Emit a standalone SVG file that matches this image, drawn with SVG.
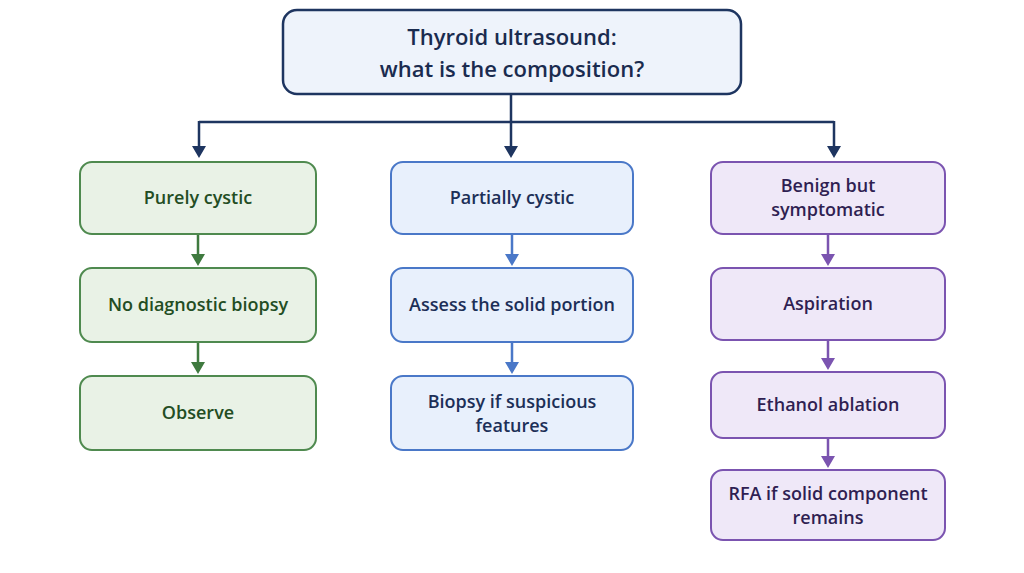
<svg xmlns="http://www.w3.org/2000/svg" width="1024" height="573" viewBox="0 0 1024 573">
<style>
text{font-family:"Open Sans","Liberation Sans",sans-serif;font-weight:600;font-size:18px;text-anchor:middle}
.g rect{fill:#e9f2e6;stroke:#4f8a4f;stroke-width:2}.g text{fill:#234d23}
.b rect{fill:#e8f0fc;stroke:#4a78c8;stroke-width:2}.b text{fill:#1c2f57}
.p rect{fill:#efe8f8;stroke:#7b54b0;stroke-width:2}.p text{fill:#2f1f52}
.t rect{fill:#eef3fb;stroke:#1e3560;stroke-width:2.5}.t text{fill:#1a2b4f;font-size:22px}
.c{fill:none;stroke-width:2.5}
</style>
<defs>
<marker id="an" markerWidth="6" markerHeight="6" refX="3" refY="5" orient="auto" markerUnits="userSpaceOnUse" viewBox="0 0 6 6"><path d="M0,0L6,0L3,6z" fill="#1e3560"/></marker>
<marker id="ag" viewBox="0 0 6 6" refX="3" refY="5" markerWidth="14" markerHeight="12" orient="auto" markerUnits="userSpaceOnUse"><path d="M0,0L6,0L3,6z" fill="#3f7a3f" transform="rotate(-90 3 3)"/></marker>
</defs>
<rect width="1024" height="573" fill="#fff"/>
<g id="connectors">
<path class="c" stroke="#1e3560" d="M511,94V122M199,122H834"/>
<path class="c" stroke="#1e3560" d="M199,121V150M511,121V150M834,121V150"/>
<path fill="#1e3560" d="M192,146h14l-7,12zM504,146h14l-7,12zM827,146h14l-7,12z"/>
<g stroke="#3f7a3f" class="c"><path d="M198,234V256M198,342V364"/></g>
<path fill="#3f7a3f" d="M191,254h14l-7,12zM191,362h14l-7,12z"/>
<g stroke="#4a78c8" class="c"><path d="M512,234V256M512,342V364"/></g>
<path fill="#4a78c8" d="M505,254h14l-7,12zM505,362h14l-7,12z"/>
<g stroke="#7b54b0" class="c"><path d="M828,234V256M828,340V360M828,438V458"/></g>
<path fill="#7b54b0" d="M821,254h14l-7,12zM821,358h14l-7,12zM821,456h14l-7,12z"/>
</g>
<g id="top" class="t"><rect x="283" y="10" width="458" height="84" rx="14"/><text x="512" y="45">Thyroid ultrasound:</text><text x="512" y="77">what is the composition?</text></g>
<g id="g1" class="g"><rect x="80" y="162" width="236" height="72" rx="12"/><text x="198" y="204">Purely cystic</text></g>
<g id="g2" class="g"><rect x="80" y="268" width="236" height="74" rx="12"/><text x="198" y="311">No diagnostic biopsy</text></g>
<g id="g3" class="g"><rect x="80" y="376" width="236" height="74" rx="12"/><text x="198" y="419">Observe</text></g>
<g id="b1" class="b"><rect x="391" y="162" width="242" height="72" rx="12"/><text x="512" y="204">Partially cystic</text></g>
<g id="b2" class="b"><rect x="391" y="268" width="242" height="74" rx="12"/><text x="512" y="311">Assess the solid portion</text></g>
<g id="b3" class="b"><rect x="391" y="376" width="242" height="74" rx="12"/><text x="512" y="408">Biopsy if suspicious</text><text x="512" y="432">features</text></g>
<g id="p1" class="p"><rect x="711" y="162" width="234" height="72" rx="12"/><text x="828" y="192">Benign but</text><text x="828" y="216">symptomatic</text></g>
<g id="p2" class="p"><rect x="711" y="268" width="234" height="72" rx="12"/><text x="828" y="310">Aspiration</text></g>
<g id="p3" class="p"><rect x="711" y="372" width="234" height="66" rx="12"/><text x="828" y="411">Ethanol ablation</text></g>
<g id="p4" class="p"><rect x="711" y="470" width="234" height="70" rx="12"/><text x="828" y="500">RFA if solid component</text><text x="828" y="524">remains</text></g>
</svg>
